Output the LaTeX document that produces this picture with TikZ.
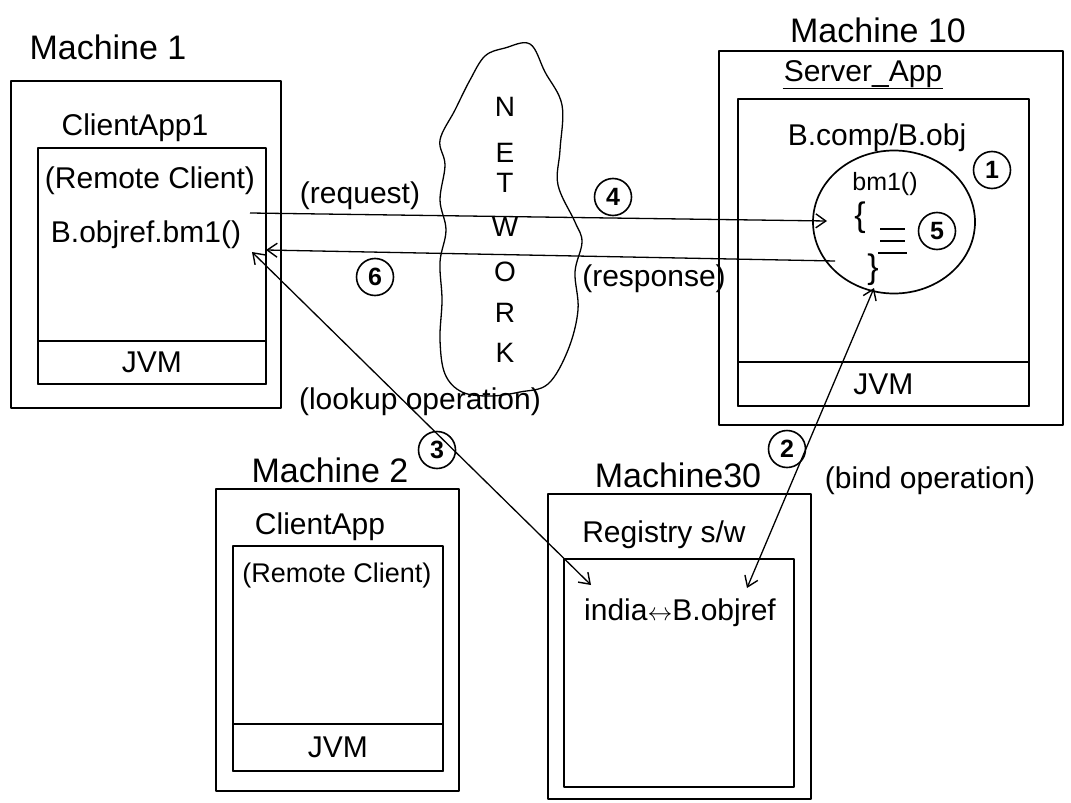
\documentclass[tikz,border=0pt]{standalone}
\usepackage{fontspec}
\setmainfont{Liberation Sans}
\usetikzlibrary{arrows.meta,shapes.geometric}
\begin{document}
\begin{tikzpicture}[x=1pt,y=-1pt,
  >={Straight Barb[length=10pt,width=14pt,line width=1.4pt]},
  hand/.style={line width=1.7pt, line join=round, line cap=round},
  box/.style={draw, hand, inner sep=0pt, anchor=north west},
  lbl/.style={font=\fontsize{30}{32}\selectfont, inner sep=1pt},
  lblsm/.style={font=\fontsize{27}{30}\selectfont, inner sep=1pt},
  big/.style={font=\fontsize{34}{36}\selectfont, inner sep=1pt},
  small/.style={font=\fontsize{25}{27}\selectfont, inner sep=1pt},
  brace/.style={font=\fontsize{34}{36}\selectfont, inner sep=0pt},
  net/.style={font=\fontsize{28}{30}\selectfont, inner sep=0pt},
  num/.style={draw, circle, line width=1.6pt, inner sep=0pt, minimum size=37pt, font=\fontsize{25}{26}\selectfont\bfseries},
  arr/.style={line width=1.3pt, ->},
  biarr/.style={line width=1.3pt, <->}
]
\useasboundingbox (0,0) rectangle (1071,803);
\fill[white] (0,0) rectangle (1071,803);

% ---------- Machine 1 ----------
\node[big] (t1) at (108,47) {Machine 1};
\node[box, minimum width=270pt, minimum height=327pt] (m1) at (10,80) {};
\node[lbl] (ca1) at (135,128) {ClientApp1};
\node[box, minimum width=228pt, minimum height=236pt] (m1i) at (37,147) {};
\node[box, minimum width=228pt, minimum height=43pt] (m1j) at (37,340) {};
\node[lbl] at (m1j.center) {JVM};
\node[lbl] (rc1) at (150,181) {(Remote Client)};
\node[lbl] (call) at (146,235) {B.objref.bm1()};

% ---------- Network cloud ----------
\draw[hand, line width=1.3pt] plot[smooth cycle, tension=0.6] coordinates {
 (505,48) (530,44) (545,72) (562,105) (560,150) (558,185) (575,222) (582,242)
 (575,272) (578,310) (568,350) (548,384) (520,392) (490,396) (462,392)
 (445,374) (440,340) (442,300) (440,262) (446,230) (440,200) (445,165)
 (440,140) (455,110) (470,80) (485,56)};
\foreach \l/\yy in {N/107,E/153,T/183,W/227,O/272,R/313,K/353}
  \node[net] at (505,\yy) {\l};

% ---------- Machine 10 ----------
\node[big] (t10) at (878,30) {Machine 10};
\node[box, minimum width=344pt, minimum height=374pt] (m10) at (718,50) {};
\node[lbl] (sa) at (863,74) {Server\_App};
\draw[line width=1.3pt] (sa.south west) -- (sa.south east);
\node[box, minimum width=291pt, minimum height=307pt] (m10i) at (737,98) {};
\node[box, minimum width=291pt, minimum height=44pt] (m10j) at (737,361) {};
\node[lbl] at (m10j.center) {JVM};
\node[lbl] (bc) at (877,138) {B.comp/B.obj};
\node[num] (n1) at (992,170) {1};
\node[draw, hand, ellipse, minimum width=162pt, minimum height=143pt] (obj) at (894,222) {};
\node[small] (bm) at (885,184) {bm1()};
\node[brace] (ob) at (860,218) {\{};
\node[brace] (cb) at (873,270) {\}};
\draw[line width=1.4pt] (880,229) -- (905,229) (880,241) -- (905,241) (878,253) -- (907,253);
\node[num] (n5) at (937,231) {5};

% ---------- Machine 2 ----------
\node[big] (t2) at (330,470) {Machine 2};
\node[box, minimum width=243pt, minimum height=302pt] (m2) at (215,488) {};
\node[lbl] (ca2) at (320,527) {ClientApp};
\node[box, minimum width=210pt, minimum height=225pt] (m2i) at (232,545) {};
\node[box, minimum width=210pt, minimum height=47pt] (m2j) at (232,723) {};
\node[lbl] at (m2j.center) {JVM};
\node[lblsm] (rc2) at (337,576) {(Remote Client)};

% ---------- Machine 30 ----------
\node[big] (t30) at (678,475) {Machine30};
\node[box, minimum width=263pt, minimum height=305pt] (m30) at (547,493) {};
\node[lbl] (reg) at (664,535) {Registry s/w};
\node[box, minimum width=230pt, minimum height=228pt] (m30i) at (563,558) {};
\node[lbl] (ind) at (680,613) {india$\leftrightarrow$B.objref};

% ---------- connectors ----------
\coordinate (rqs) at (250,213);
\coordinate (rqe) at (827,221);
\coordinate (rss) at (835,261);
\coordinate (rse) at (266,250);
\coordinate (lka) at (252,252);
\coordinate (lkb) at (591,585);
\coordinate (bda) at (874,288);
\coordinate (bdb) at (747,588);
\draw[arr] (rqs) -- (rqe);
\draw[arr] (rss) -- (rse);
\draw[biarr] (lka) -- (lkb);
\draw[biarr] (bda) -- (bdb);

\node[lbl] (req) at (360,196) {(request)};
\node[num] (n4) at (613,197) {4};
\node[num] (n6) at (375,277) {6};
\node[lbl] (resp) at (654,279) {(response)};
\node[lbl] (look) at (420,402) {(lookup operation)};
\node[num] (n3) at (437,450) {3};
\node[num] (n2) at (787,449) {2};
\node[lbl] (bind) at (930,481) {(bind operation)};
\end{tikzpicture}
\end{document}
